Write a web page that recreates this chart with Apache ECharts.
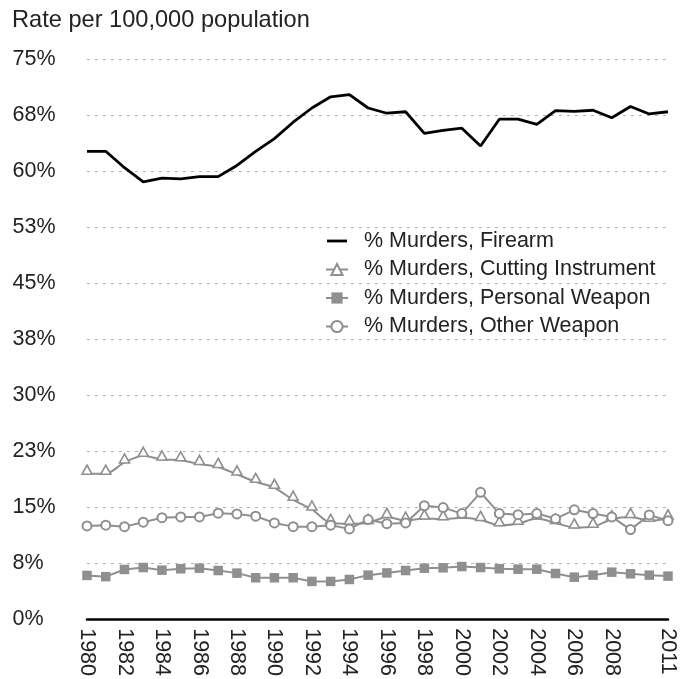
<!DOCTYPE html>
<html>
<head>
<meta charset="utf-8">
<script src="https://cdn.jsdelivr.net/npm/echarts@6/dist/echarts.min.js"></script>
<style>
html,body{margin:0;padding:0;background:#fff;}
#chart{width:691px;height:679px;}
</style>
</head>
<body>
<div id="chart"></div>
<script>
const years = ['1980','1981','1982','1983','1984','1985','1986','1987','1988','1989','1990','1991','1992','1993','1994','1995','1996','1997','1998','1999','2000','2001','2002','2003','2004','2005','2006','2007','2008','2009','2010','2011'];
const firearm = [62.7,62.7,60.5,58.6,59.1,59.0,59.3,59.3,60.8,62.7,64.4,66.6,68.5,70.0,70.3,68.5,67.8,68.0,65.1,65.5,65.8,63.4,67.0,67.0,66.3,68.15,68.06,68.2,67.2,68.7,67.7,68.0];
const cutting = [19.5,19.5,21.0,21.9,21.4,21.3,20.8,20.4,19.4,18.4,17.6,16.0,14.7,12.9,12.8,12.9,13.7,13.2,13.5,13.4,13.6,13.3,12.6,12.8,13.5,12.9,12.3,12.4,13.4,13.7,13.2,13.5];
const personal = [5.86,5.7,6.66,6.92,6.57,6.75,6.83,6.52,6.17,5.55,5.55,5.55,5.06,5.06,5.32,5.9,6.2,6.52,6.83,6.88,7.05,6.92,6.75,6.7,6.7,6.12,5.63,5.9,6.3,6.08,5.9,5.77];
const other = [12.5,12.6,12.4,13.0,13.6,13.7,13.7,14.2,14.1,13.8,12.9,12.4,12.4,12.6,12.1,13.35,12.8,12.9,15.2,14.95,14.15,17.0,14.15,14.0,14.15,13.45,14.65,14.15,13.7,12.0,13.97,13.2];
const seriesNames = ['% Murders, Firearm','% Murders, Cutting Instrument','% Murders, Personal Weapon','% Murders, Other Weapon'];
const yTitle = 'Rate per 100,000 population';

const FONT = '"Liberation Sans", Arial, Helvetica, sans-serif';
const GRAY = '#8f8f8f';
const chart = echarts.init(document.getElementById('chart'), null, {renderer:'canvas'});
chart.setOption({
  animation:false,
  backgroundColor:'#fff',
  title:{text:yTitle,left:12,top:8,padding:0,textStyle:{fontFamily:FONT,fontSize:23.6,fontWeight:'normal',color:'#222'}},
  grid:{left:87,right:23,top:59.5,bottom:56,containLabel:false},
  legend:{
    orient:'vertical',left:325,top:230,itemWidth:22,itemHeight:14,itemGap:6.5,padding:0,
    textStyle:{fontFamily:FONT,fontSize:21.5,color:'#222',padding:[0,0,0,11]},
    data:[
      {name:seriesNames[0],icon:'path://M0,0 M22,14 M1,5.6 L21,5.6 L21,8.4 L1,8.4 Z',itemStyle:{color:'#000',borderWidth:0}},
      seriesNames[1],seriesNames[2],seriesNames[3]
    ]
  },
  xAxis:{
    type:'category',data:years,boundaryGap:false,
    axisLine:{lineStyle:{color:'#000',width:2.5}},
    axisTick:{show:false},
    axisLabel:{rotate:-90,margin:9,fontFamily:FONT,fontSize:21.5,color:'#222',
      interval:function(i){return (i%2===0 && i<30) || i===31;}},
    splitLine:{show:false}
  },
  yAxis:{
    type:'value',min:0,max:75,interval:7.5,
    axisLine:{show:false},axisTick:{show:false},
    axisLabel:{align:'left',margin:74.5,fontFamily:FONT,fontSize:21.5,color:'#222',
      formatter:function(v){return Math.round(v)+'%';}},
    splitLine:{lineStyle:{color:'#b3b3b3',width:1,type:[3,5]}}
  },
  series:[
    {name:seriesNames[0],type:'line',data:firearm,symbol:'none',
     lineStyle:{color:'#000',width:2.8},itemStyle:{color:'#000'},z:5},
    {name:seriesNames[1],type:'line',data:cutting,smooth:0.3,symbol:'triangle',symbolSize:[10,9],symbolOffset:[0,-4],
     lineStyle:{color:GRAY,width:2},itemStyle:{color:'#fff',borderColor:GRAY,borderWidth:1.6},z:3},
    {name:seriesNames[2],type:'line',data:personal,symbol:'rect',symbolSize:9.5,
     lineStyle:{color:GRAY,width:2},itemStyle:{color:GRAY,borderColor:GRAY,borderWidth:0},z:3},
    {name:seriesNames[3],type:'line',data:other,symbol:'circle',symbolSize:9,showAllSymbol:true,
     lineStyle:{color:GRAY,width:2},itemStyle:{color:'#fff',borderColor:GRAY,borderWidth:2},z:4}
  ]
});
</script>
</body>
</html>
